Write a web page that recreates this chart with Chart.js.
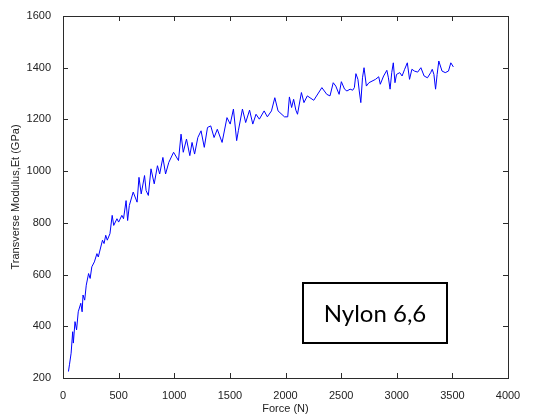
<!DOCTYPE html>
<html>
<head>
<meta charset="utf-8">
<script src="https://cdn.jsdelivr.net/npm/chart.js@4"></script>
<style>
  html, body { margin: 0; padding: 0; background: #fff; }
  #wrap { width: 539px; height: 419px; position: relative; }
</style>
</head>
<body>
<div id="wrap"><canvas id="chart"></canvas></div>
<script>
// force (N) and transverse modulus (GPa)
const forceN = [
  49, 58, 73, 87, 93, 108, 122, 137, 160, 172, 180, 195, 209, 230, 244, 259, 282, 305, 317, 355,
  369, 384, 398, 422, 442, 456, 485, 500, 529, 544, 567, 581, 596, 631, 666, 683, 703, 733, 747, 767,
  791, 820, 849, 869, 898, 922, 951, 994, 1038, 1061, 1081, 1110, 1140, 1160, 1183, 1212, 1241, 1270, 1299, 1328,
  1358, 1387, 1430, 1474, 1503, 1532, 1561, 1576, 1613, 1642, 1677, 1706, 1735, 1765, 1808, 1837, 1874, 1904, 1933, 1991,
  2020, 2035, 2055, 2073, 2093, 2108, 2143, 2166, 2196, 2254, 2327, 2371, 2400, 2429, 2452, 2482, 2502, 2531, 2552, 2581,
  2604, 2619, 2633, 2651, 2663, 2677, 2692, 2706, 2727, 2750, 2809, 2838, 2852, 2882, 2911, 2925, 2940, 2955, 2969, 2984,
  2998, 3027, 3048, 3071, 3095, 3115, 3136, 3159, 3188, 3217, 3246, 3276, 3305, 3319, 3334, 3349, 3363, 3378, 3407, 3436,
  3465, 3486, 3509
];
const modulusGPa = [
  225, 251, 296, 379, 335, 418, 386, 456, 489, 456, 521, 501, 559, 604, 585, 630, 649, 681, 668, 733,
  720, 752, 733, 758, 829, 790, 816, 803, 829, 816, 886, 809, 867, 919, 880, 976, 912, 983, 925, 906,
  1009, 951, 1021, 989, 1053, 989, 1034, 1073, 1041, 1143, 1073, 1124, 1060, 1111, 1066, 1130, 1156, 1092, 1169, 1175,
  1130, 1162, 1111, 1207, 1182, 1240, 1118, 1156, 1240, 1188, 1236, 1182, 1220, 1201, 1233, 1210, 1233, 1284, 1233, 1210,
  1210, 1287, 1246, 1278, 1236, 1220, 1304, 1265, 1291, 1274, 1323, 1297, 1291, 1342, 1329, 1297, 1346, 1317, 1310, 1317,
  1313, 1323, 1377, 1355, 1310, 1265, 1361, 1400, 1329, 1342, 1355, 1365, 1336, 1368, 1390, 1361, 1317, 1381, 1419, 1342,
  1374, 1381, 1368, 1394, 1419, 1355, 1394, 1387, 1383, 1400, 1368, 1361, 1381, 1394, 1374, 1317, 1374, 1426, 1387, 1381,
  1387, 1419, 1403
];

const xTicks = [0, 500, 1000, 1500, 2000, 2500, 3000, 3500, 4000];
const yTicks = [200, 400, 600, 800, 1000, 1200, 1400, 1600];
const labelText = 'Nylon 6,6';

const axisColor = '#2b2b2b';
const tickFont = { family: "'Liberation Sans', Arial, sans-serif", size: 11 };

// MATLAB-style box with inward ticks on all four sides
const boxPlugin = {
  id: 'matlabBox',
  afterDatasetsDraw(chart) {
    const { ctx, chartArea: a, scales } = chart;
    const len = 5;
    ctx.save();
    ctx.strokeStyle = axisColor;
    ctx.lineWidth = 1;
    ctx.beginPath();
    xTicks.forEach(v => {
      const px = Math.round(scales.x.getPixelForValue(v)) + 0.5;
      ctx.moveTo(px, a.bottom); ctx.lineTo(px, a.bottom - len);
      ctx.moveTo(px, a.top); ctx.lineTo(px, a.top + len);
    });
    yTicks.forEach(v => {
      const py = Math.round(scales.y.getPixelForValue(v)) + 0.5;
      ctx.moveTo(a.left, py); ctx.lineTo(a.left + len, py);
      ctx.moveTo(a.right, py); ctx.lineTo(a.right - len, py);
    });
    ctx.stroke();
    ctx.strokeRect(Math.round(a.left) + 0.5, Math.round(a.top) + 0.5,
      Math.round(a.right - a.left), Math.round(a.bottom - a.top));
    ctx.restore();
  }
};

// the text box in the lower right
const textBoxPlugin = {
  id: 'textBox',
  afterDraw(chart) {
    const { ctx } = chart;
    const x = 303, y = 283, w = 144, h = 60;
    ctx.save();
    ctx.fillStyle = '#fff';
    ctx.fillRect(x, y, w, h);
    ctx.strokeStyle = '#000';
    ctx.lineWidth = 2;
    ctx.strokeRect(x, y, w, h);
    ctx.fillStyle = '#000';
    ctx.font = "24px Lato, 'Open Sans', sans-serif";
    ctx.textAlign = 'center';
    ctx.textBaseline = 'middle';
    ctx.fillText(labelText, x + w / 2, y + h / 2 + 1);
    ctx.restore();
  }
};

new Chart(document.getElementById('chart'), {
  type: 'scatter',
  data: {
    datasets: [{
      data: forceN.map((f, i) => ({ x: f, y: modulusGPa[i] })),
      showLine: true,
      borderColor: '#0000ff',
      borderWidth: 1,
      pointRadius: 0,
      tension: 0
    }]
  },
  options: {
    responsive: true,
    maintainAspectRatio: false,
    animation: false,
    layout: { padding: { top: 16, right: 31, left: 0, bottom: 0 } },
    plugins: { legend: { display: false }, tooltip: { enabled: false } },
    scales: {
      x: {
        type: 'linear', min: 0, max: 4000,
        afterBuildTicks: s => { s.ticks = xTicks.map(v => ({ value: v })); },
        afterFit: s => { s.height = 41; },
        grid: { display: false },
        border: { display: false },
        ticks: { color: '#222', font: tickFont, padding: 3, maxRotation: 0, callback: v => String(v) },
        title: { display: true, text: 'Force (N)', color: '#222', font: tickFont, padding: { top: 0, bottom: 3 } }
      },
      y: {
        type: 'linear', min: 200, max: 1600,
        afterBuildTicks: s => { s.ticks = yTicks.map(v => ({ value: v })); },
        afterFit: s => { s.width = 63; },
        grid: { display: false },
        border: { display: false },
        ticks: { color: '#222', font: tickFont, padding: 4, callback: v => String(v) },
        title: { display: true, text: 'Transverse Modulus,Et (GPa)', color: '#222', font: tickFont, padding: { top: 9, bottom: 0 } }
      }
    }
  },
  plugins: [boxPlugin, textBoxPlugin]
});
</script>
</body>
</html>
